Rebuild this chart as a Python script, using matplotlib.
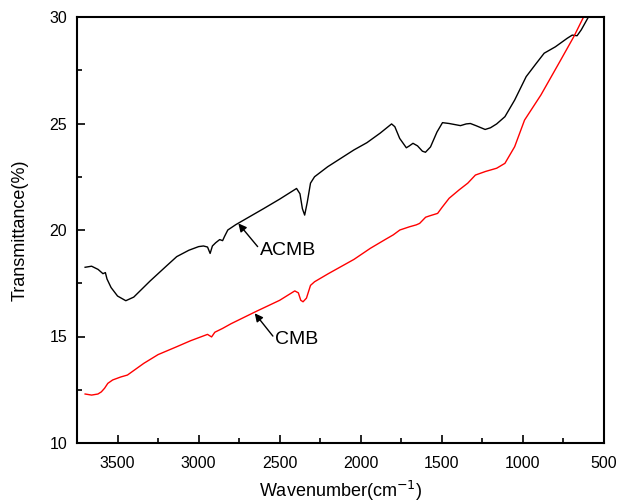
import matplotlib.pyplot as plt
import numpy as np

plt.rcParams['font.family'] = ['Liberation Sans', 'DejaVu Sans']

# ACMB (black) spectrum
acmb_x = [3700, 3660, 3620, 3590, 3575, 3565, 3540, 3500, 3449, 3400, 3300, 3200,
          3135, 3060, 3000, 2970, 2945, 2929, 2915, 2895, 2870, 2852, 2840, 2820,
          2771, 2600, 2500, 2396, 2375, 2360, 2346, 2330, 2310, 2285, 2204, 2042,
          1962, 1880, 1810, 1790, 1760, 1719, 1700, 1678, 1650, 1620, 1601, 1570,
          1530, 1496, 1455, 1420, 1385, 1350, 1324, 1290, 1233, 1200, 1162, 1111,
          1051, 980, 920, 869, 800, 727, 696, 666, 640, 596, 560]
acmb_y = [18.25, 18.3, 18.15, 17.95, 18.0, 17.7, 17.3, 16.9, 16.68, 16.85, 17.6, 18.3,
          18.75, 19.05, 19.22, 19.25, 19.2, 18.9, 19.25, 19.4, 19.55, 19.5, 19.7, 20.0,
          20.25, 21.0, 21.45, 21.95, 21.7, 21.0, 20.7, 21.3, 22.2, 22.5, 22.97, 23.76,
          24.1, 24.55, 24.98, 24.85, 24.3, 23.86, 23.95, 24.07, 23.95, 23.7, 23.65, 23.9,
          24.6, 25.04, 25.0, 24.95, 24.9, 24.98, 25.0, 24.9, 24.72, 24.8, 24.98, 25.32,
          26.1, 27.2, 27.8, 28.3, 28.6, 29.0, 29.15, 29.12, 29.4, 30.0, 30.6]

# CMB (red) spectrum
cmb_x = [3700, 3660, 3621, 3600, 3580, 3560, 3530, 3480, 3439, 3338, 3250, 3135,
         3050, 2973, 2945, 2935, 2920, 2900, 2852, 2800, 2650, 2500, 2407, 2385,
         2370, 2356, 2335, 2310, 2285, 2200, 2042, 1941, 1850, 1800, 1759, 1700,
         1658, 1637, 1600, 1577, 1526, 1500, 1455, 1394, 1340, 1293, 1230, 1162,
         1111, 1051, 990, 889, 767, 686, 626, 580]
cmb_y = [12.3, 12.25, 12.3, 12.4, 12.57, 12.8, 12.96, 13.1, 13.19, 13.74, 14.15, 14.52,
         14.8, 15.02, 15.1, 15.05, 14.98, 15.2, 15.38, 15.6, 16.16, 16.7, 17.14, 17.05,
         16.7, 16.63, 16.8, 17.4, 17.57, 17.95, 18.62, 19.14, 19.55, 19.77, 20.0, 20.15,
         20.24, 20.31, 20.6, 20.66, 20.78, 21.05, 21.49, 21.88, 22.2, 22.58, 22.75, 22.9,
         23.13, 23.91, 25.16, 26.34, 27.98, 29.08, 30.0, 30.6]

fig = plt.figure(figsize=(6.19, 5.03), dpi=100)
ax = fig.add_axes([77 / 619, 1 - 443 / 503, 527 / 619, 426 / 503])

ax.plot(acmb_x, acmb_y, color='black', lw=1.0)
ax.plot(cmb_x, cmb_y, color='red', lw=1.0)

ax.set_xlim(3700, 500)
ax.set_ylim(10, 30)
ax.set_xticks([3500, 3000, 2500, 2000, 1500, 1000, 500])
ax.set_xticks(np.arange(3750, 500, -500), minor=True)
ax.set_yticks([10, 15, 20, 25, 30])
ax.set_yticks([12.5, 17.5, 22.5, 27.5], minor=True)
ax.tick_params(which='both', direction='in', top=False, right=False, labelsize=11.5)
ax.tick_params(which='major', length=6, width=1.2)
ax.tick_params(which='minor', length=3.5, width=1.2)
ax.tick_params(axis='x', pad=9)
ax.tick_params(axis='y', pad=7)
for s in ax.spines.values():
    s.set_linewidth(1.5)

ax.set_xlabel('Wavenumber(cm$^{-1}$)', fontsize=13, labelpad=6)
ax.set_ylabel('Transmittance(%)', fontsize=13, labelpad=15)

# arrows and labels
ax.annotate('', xy=(2755, 20.31), xytext=(2636, 19.22),
            arrowprops=dict(arrowstyle='-|>', color='black', lw=1.0,
                            mutation_scale=12, shrinkA=0, shrinkB=0))
ax.text(2619, 19.04, 'ACMB', fontsize=14, va='center', ha='left')
ax.annotate('', xy=(2654, 16.09), xytext=(2542, 15.02),
            arrowprops=dict(arrowstyle='-|>', color='black', lw=1.0,
                            mutation_scale=12, shrinkA=0, shrinkB=0))
ax.text(2528, 14.84, 'CMB', fontsize=14, va='center', ha='left')

fig.savefig('out.png', dpi=100)
